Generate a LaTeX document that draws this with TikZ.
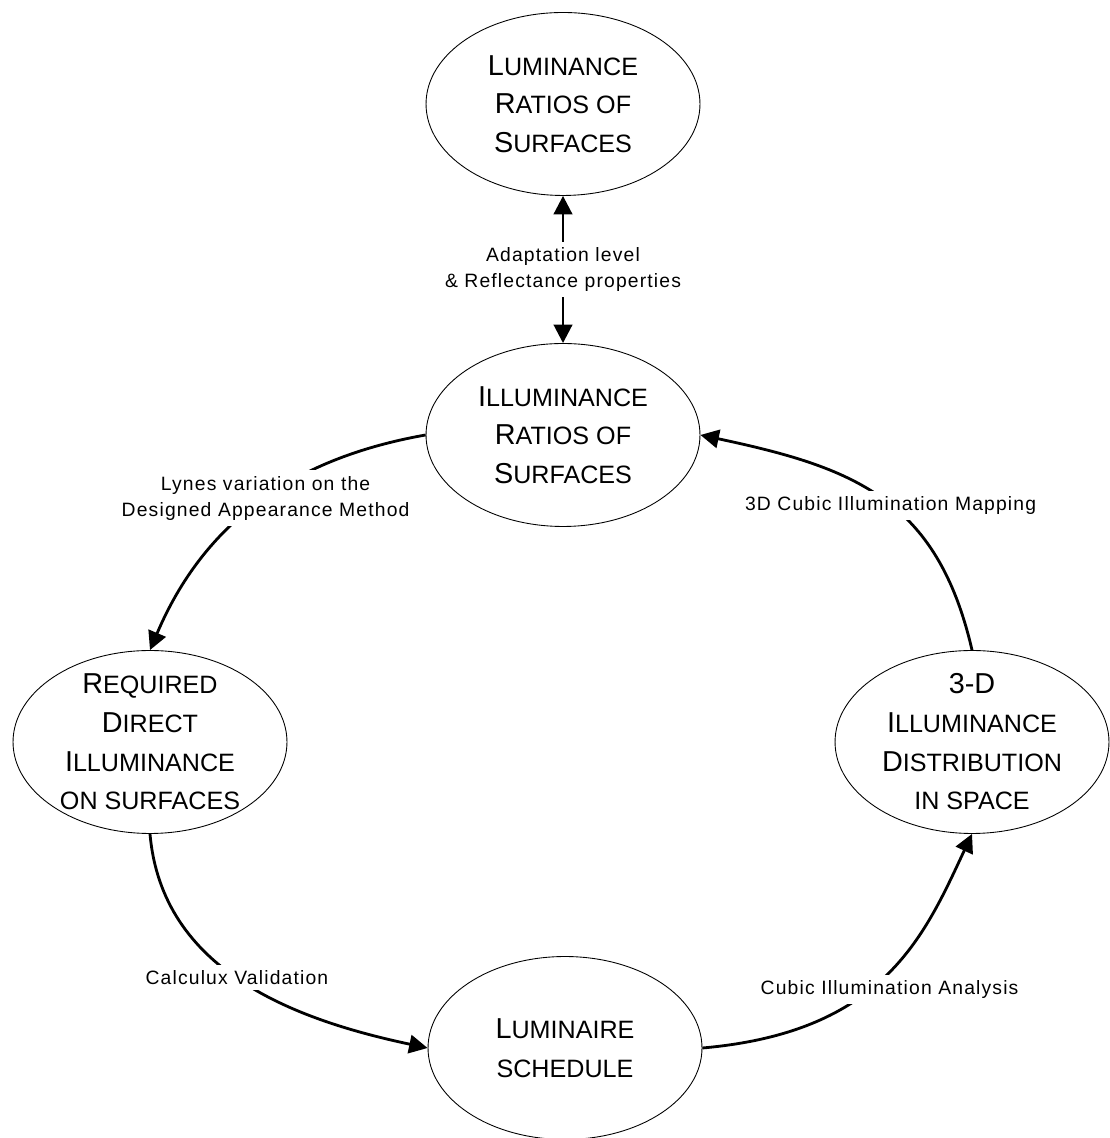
\documentclass[tikz,border=0pt]{standalone}
\usepackage{fontspec}
\setmainfont{Liberation Sans}
\newfontfamily\lblfont{Liberation Sans}[LetterSpace=6]
\usepackage{tikz}
\usetikzlibrary{positioning, arrows.meta, shapes.geometric}

\newcommand{\Ini}[1]{{\fontsize{16.4}{22}\selectfont #1}}

\begin{document}
\begin{tikzpicture}[x=0.02cm, y=0.02cm]
\tikzstyle{bubble}=[draw, ellipse, line width=0.5pt, minimum width=5.48cm, minimum height=3.66cm, inner sep=0pt]
\tikzstyle{bubbletext}=[align=center, font={\fontsize{14.3}{22}\selectfont}]
\tikzstyle{flow}=[draw, line width=1.6pt, >={Triangle[length=10.5pt, width=10.5pt]}]
\tikzstyle{lbl}=[fill=white, align=center, font={\lblfont\fontsize{11}{14.8}\selectfont}]

\useasboundingbox (0,0) rectangle (1109,1138);

\node[bubble](lum) 	at	(563,1034){};
\node[bubble](illum) 	at	(563,703){};
\node[bubble](req) 	at	(150,396){};
\node[bubble](dist) 	at	(972,396){};
\node[bubble](sched) 	at	(565,90){};

\node[bubbletext](lum-txt) 	at	(lum){\Ini{L}UMINANCE\\\Ini{R}ATIOS OF\\\Ini{S}URFACES};
\node[bubbletext](illum-txt) 	at	(illum){\Ini{I}LLUMINANCE\\\Ini{R}ATIOS OF\\\Ini{S}URFACES};
\node[bubbletext](req-txt) 	at	(req){\Ini{R}EQUIRED\\\Ini{D}IRECT\\\Ini{I}LLUMINANCE\\ON SURFACES};
\node[bubbletext](dist-txt) 	at	(dist){\Ini{3-D}\\\Ini{I}LLUMINANCE\\\Ini{D}ISTRIBUTION\\IN SPACE};
\node[bubbletext](sched-txt) 	at	(sched){\Ini{L}UMINAIRE\\SCHEDULE};

\path[flow, <->](illum.north) -- node[lbl]{Adaptation level\\\& Reflectance properties} (lum.south);
\path[flow, ->](illum.west) to[out=190, in=67] node[lbl, pos=0.47]{Lynes variation on the\\Designed Appearance Method} (req.north);
\path[flow, ->](req.south) to[out=-85, in=168] node[lbl, pos=0.48]{Calculux Validation} (sched.west);
\path[flow, ->](sched.east) to[out=5, in=245, out looseness=1.35, in looseness=0.85] node[lbl, pos=0.43, xshift=0.4cm]{Cubic Illumination Analysis} (dist.south);
\path[flow, ->](dist.north) to[out=103, in=-12, looseness=1.15] node[lbl, pos=0.46]{3D Cubic Illumination Mapping} (illum.east);

\end{tikzpicture}
\end{document}
